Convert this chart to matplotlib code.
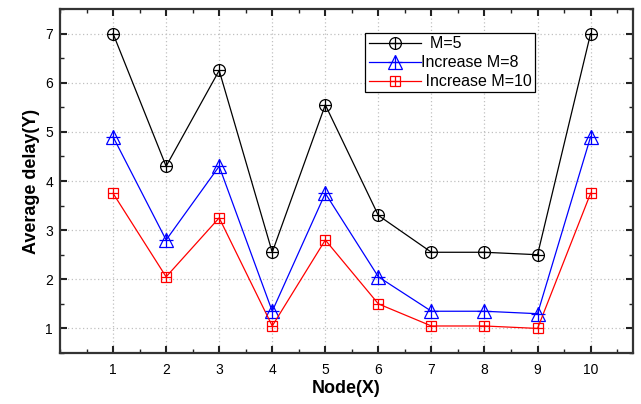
import matplotlib
matplotlib.use("Agg")
import matplotlib.pyplot as plt
from matplotlib.ticker import MultipleLocator
from matplotlib.legend_handler import HandlerTuple

plt.rcParams['font.family'] = ['Liberation Sans', 'DejaVu Sans']

nodes = [1, 2, 3, 4, 5, 6, 7, 8, 9, 10]
delay_m5 = [7.0, 4.3, 6.25, 2.55, 5.55, 3.3, 2.55, 2.55, 2.5, 7.0]
delay_m8 = [4.9, 2.8, 4.3, 1.35, 3.75, 2.05, 1.35, 1.35, 1.3, 4.9]
delay_m10 = [3.75, 2.05, 3.25, 1.05, 2.8, 1.5, 1.05, 1.05, 1.0, 3.75]
labels = ["  M=5", "Increase M=8", " Increase M=10"]
x_ticks = [1, 2, 3, 4, 5, 6, 7, 8, 9, 10]
y_ticks = [1, 2, 3, 4, 5, 6, 7]

fig = plt.figure(figsize=(6.41, 4.04), dpi=100)
ax = fig.add_axes([0.0936, 0.1262, 0.894, 0.8515])

series = [
    (delay_m5, 'black', 'o', 8.5),
    (delay_m8, 'blue', '^', 10),
    (delay_m10, 'red', 's', 7.5),
]
handles = []
for values, color, marker, ms in series:
    line, = ax.plot(nodes, values, color=color, lw=0.9, marker=marker,
                    ms=ms, mfc='none', mec=color, mew=0.9, zorder=3)
    plus, = ax.plot(nodes, values, ls='none', marker='+', ms=ms * 0.95,
                    mec=color, mew=0.9, zorder=4)
    handles.append((line, plus))

ax.set_xlim(0, 10.8)
ax.set_ylim(0.5, 7.5)
ax.set_xticks(x_ticks)
ax.set_yticks(y_ticks)
ax.xaxis.set_minor_locator(MultipleLocator(0.5))
ax.yaxis.set_minor_locator(MultipleLocator(0.5))
ax.tick_params(which='both', direction='in', top=True, right=True,
               labelsize=10, color='#222222')
ax.tick_params(axis='x', which='major', pad=7)
ax.tick_params(axis='y', which='major', pad=5)
ax.tick_params(which='major', length=5, width=1.5)
ax.tick_params(which='minor', length=3, width=1.0)
ax.grid(True, which='major', ls=(0, (1, 2)), color='#c0c0c0', lw=0.9)
ax.set_axisbelow(True)
for sp in ax.spines.values():
    sp.set_linewidth(1.6)
    sp.set_color('#333333')

ax.set_xlabel('Node(X)', fontsize=13, fontweight='bold', labelpad=2)
ax.set_ylabel('Average delay(Y)', fontsize=13, fontweight='bold', labelpad=4)

leg = ax.legend(handles, labels, handler_map={tuple: HandlerTuple(ndivide=1)},
                loc='upper left', bbox_to_anchor=(0.533, 0.93),
                fontsize=11.5, frameon=True, fancybox=False, edgecolor='black',
                framealpha=1, borderpad=0.2, handlelength=3.3,
                handletextpad=0.0, labelspacing=0.25, borderaxespad=0,
                numpoints=1)
leg.get_frame().set_linewidth(0.9)

fig.savefig('out.png', dpi=100)
